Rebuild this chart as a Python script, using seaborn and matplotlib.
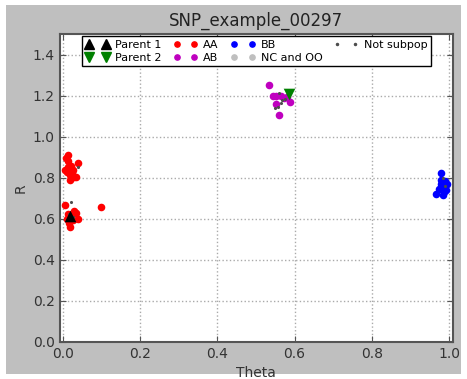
import numpy as np
import matplotlib
matplotlib.use("Agg")
import matplotlib.pyplot as plt
import seaborn as sns
from matplotlib.patches import Rectangle
from matplotlib.lines import Line2D

# values
aa_theta = [0.014, 0.008, 0.012, 0.038, 0.021, 0.016, 0.027, 0.010, 0.024, 0.018, 0.034, 0.006, 0.019, 0.030, 0.013,
            0.006, 0.029, 0.035, 0.012, 0.039, 0.016, 0.018, 0.010, 0.025, 0.022, 0.098]
aa_r     = [0.909, 0.895, 0.881, 0.872, 0.858, 0.845, 0.838, 0.828, 0.825, 0.815, 0.802, 0.840, 0.788, 0.805, 0.852,
            0.666, 0.638, 0.630, 0.625, 0.601, 0.580, 0.559, 0.600, 0.592, 0.620, 0.655]
ab_theta = [0.534, 0.543, 0.553, 0.564, 0.553, 0.588, 0.560, 0.572, 0.580]
ab_r     = [1.251, 1.197, 1.197, 1.197, 1.160, 1.168, 1.107, 1.190, 1.195]
bb_theta = [0.980, 0.983, 0.987, 0.978, 0.966, 0.985, 0.990, 0.975, 0.992, 0.982, 0.988, 0.978, 0.995, 0.984]
bb_r     = [0.823, 0.779, 0.763, 0.770, 0.723, 0.715, 0.785, 0.745, 0.740, 0.750, 0.730, 0.790, 0.770, 0.760]
nc_theta = []
nc_r     = []
ns_theta = [0.022, 0.040, 0.015, 0.012, 0.025, 0.560, 0.575, 0.565, 0.558, 0.548, 0.568, 0.990, 0.985]
ns_r     = [0.680, 0.850, 0.625, 0.600, 0.610, 1.215, 1.185, 1.165, 1.145, 1.140, 1.178, 0.760, 0.800]
p1_theta = [0.019]
p1_r     = [0.612]
p2_theta = [0.585]
p2_r     = [1.209]

plt.rcParams['font.family'] = ['DejaVu Sans']
fig = plt.figure(figsize=(4.67, 3.79), dpi=100)
fig.patch.set_facecolor('white')
fig.patches.append(Rectangle((0.012, 0.012), 0.976, 0.976, transform=fig.transFigure,
                             facecolor='#bfbfbf', edgecolor='none', zorder=-10))
ax = fig.add_axes([0.128, 0.098, 0.842, 0.812])
ax.set_facecolor('white')

sns.scatterplot(x=p1_theta, y=p1_r, ax=ax, marker='^', color='black', s=70, linewidth=0, zorder=5)
sns.scatterplot(x=p2_theta, y=p2_r, ax=ax, marker='v', color='green', s=70, linewidth=0, zorder=5)
sns.scatterplot(x=aa_theta, y=aa_r, ax=ax, color='red', s=30, linewidth=0, zorder=3)
sns.scatterplot(x=ab_theta, y=ab_r, ax=ax, color='m', s=30, linewidth=0, zorder=3)
sns.scatterplot(x=bb_theta, y=bb_r, ax=ax, color='blue', s=30, linewidth=0, zorder=3)
ax.plot(nc_theta, nc_r, 'o', color='0.75', markersize=4)
sns.scatterplot(x=ns_theta, y=ns_r, ax=ax, color='0.3', s=5, linewidth=0, zorder=4)

# legend proxies
handles = [
    Line2D([], [], ls='', marker='^', color='black', markersize=7),
    Line2D([], [], ls='', marker='v', color='green', markersize=7),
    Line2D([], [], ls='', marker='o', color='red', markersize=3.8),
    Line2D([], [], ls='', marker='o', color='m', markersize=3.8),
    Line2D([], [], ls='', marker='o', color='blue', markersize=3.8),
    Line2D([], [], ls='', marker='o', color='0.75', markersize=3.8),
    Line2D([], [], ls='', marker='o', color='0.3', markersize=1.5),
]
labels = ['Parent 1', 'Parent 2', 'AA', 'AB', 'BB', 'NC and OO', 'Not subpop']
leg = ax.legend(handles, labels, loc='upper center', ncol=4, numpoints=2, fontsize=8,
                fancybox=False, framealpha=1, edgecolor='black', borderaxespad=0.2,
                handletextpad=0.5, columnspacing=1.05, handlelength=2.2,
                labelspacing=0.3, borderpad=0.3)
leg.get_frame().set_linewidth(1.0)

ax.set_xlim(-0.008, 1.01)
ax.set_ylim(0, 1.5)
ax.set_xticks([0, 0.2, 0.4, 0.6, 0.8, 1.0])
ax.set_yticks([0, 0.2, 0.4, 0.6, 0.8, 1.0, 1.2, 1.4])
ax.set_xticklabels(['0.0', '0.2', '0.4', '0.6', '0.8', '1.0'], fontsize=10, color='#333333')
ax.set_yticklabels(['0.0', '0.2', '0.4', '0.6', '0.8', '1.0', '1.2', '1.4'], fontsize=10, color='#333333')
ax.grid(True, linestyle=':', color='#aaaaaa', linewidth=1)
ax.tick_params(direction='in', top=True, right=True, length=4, color='#555555')
for sp in ax.spines.values():
    sp.set_color('#555555')
    sp.set_linewidth(1.5)
ax.set_xlabel('Theta', fontsize=10, color='#333333')
ax.set_ylabel('R', fontsize=10, color='#333333')
ax.set_title('SNP_example_00297', fontsize=12, color='#222222')

fig.savefig('out.png', dpi=100, facecolor=fig.get_facecolor())
